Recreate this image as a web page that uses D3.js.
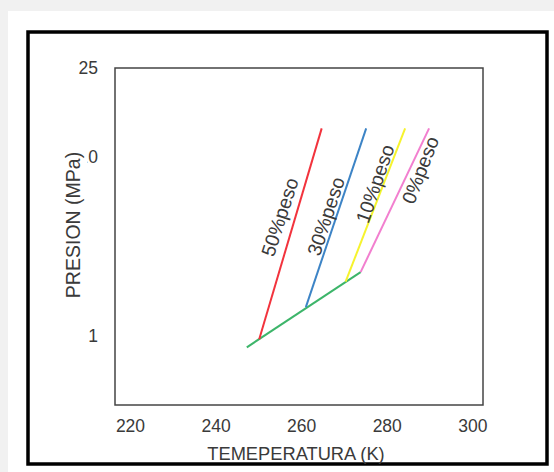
<!DOCTYPE html>
<html>
<head>
<meta charset="utf-8">
<script src="https://cdn.jsdelivr.net/npm/d3@7/dist/d3.min.js"></script>
<style>
  body { margin: 0; background: #fff; }
  svg { display: block; }
</style>
</head>
<body>
<div id="chart"></div>
<script>
// Hydrate equilibrium lines (T in K, P in MPa)
const seriesNames = ["50%peso", "30%peso", "10%peso", "0%peso"];
const seriesColors = ["#f2333d", "#3d84c6", "#f6f32e", "#f27fcf"];
const seriesTemps = [[250.2, 264.8], [261.1, 275.2], [270.4, 284.3], [273.9, 289.9]];
const seriesPress = [[0.95, 13.6], [1.53, 13.6], [2.18, 13.6], [2.48, 13.6]];
// lower (green) line
const baseTemps = [247.3, 273.9];
const basePress = [0.84, 2.48];

const xTicks = [220, 240, 260, 280, 300];
const yTicks = [1, 10, 25];

// where each label sits along its line (fraction, px to the left, angle)
const labelLayout = [
  { t: 0.56, off: 15, angle: -72 },
  { t: 0.49, off: 10, angle: -72 },
  { t: 0.62, off: 8, angle: -71 },
  { t: 0.74, off: -10, angle: -69 }
];

function renderChart() {
  const width = 554, height = 472;
  const margin = { top: 68, right: 71, bottom: 67, left: 115 };
  const font = "'Liberation Sans', Arial, sans-serif";
  const textColor = "#3a3a3a";

  const svg = d3.select("#chart").append("svg")
    .attr("width", width)
    .attr("height", height);

  // page background + white card
  svg.append("rect").attr("width", width).attr("height", height).attr("fill", "#f1f1f1");
  svg.append("rect").attr("x", 8).attr("y", 11)
    .attr("width", width - 8).attr("height", height - 11).attr("fill", "#fff");

  // black frame around the chart
  svg.append("rect")
    .attr("x", 28).attr("y", 32).attr("width", 519).attr("height", 432)
    .attr("fill", "none").attr("stroke", "#000").attr("stroke-width", 3.5);

  const x = d3.scaleLinear()
    .domain([216.5, 302.5])
    .range([margin.left, width - margin.right]);

  // compressed pressure axis, fitted to the printed tick positions
  const y = d3.scalePow().exponent(0.14)
    .domain([0.322, 25])
    .range([height - margin.bottom, margin.top]);

  // plot box
  svg.append("rect")
    .attr("x", margin.left).attr("y", margin.top)
    .attr("width", x.range()[1] - x.range()[0])
    .attr("height", y.range()[0] - y.range()[1])
    .attr("fill", "none").attr("stroke", "#444").attr("stroke-width", 1.5);

  const xAxis = svg.append("g")
    .attr("transform", `translate(0,${height - margin.bottom})`)
    .call(d3.axisBottom(x).tickValues(xTicks).tickSize(0).tickPadding(15));
  xAxis.select(".domain").remove();
  xAxis.selectAll("text")
    .style("font-family", font).style("font-size", "17.5px").attr("fill", textColor);

  const yAxis = svg.append("g")
    .attr("transform", `translate(${margin.left},0)`)
    .call(d3.axisLeft(y).tickValues(yTicks).tickSize(0).tickPadding(17).tickFormat(d3.format("d")));
  yAxis.select(".domain").remove();
  yAxis.selectAll("text")
    .style("font-family", font).style("font-size", "17.5px").attr("fill", textColor);

  const line = d3.line().x(d => x(d[0])).y(d => y(d[1]));

  // green lower line
  svg.append("path")
    .datum(d3.zip(baseTemps, basePress))
    .attr("d", line)
    .attr("fill", "none").attr("stroke", "#3db56a").attr("stroke-width", 2);

  const series = seriesNames.map((name, i) => ({
    name,
    color: seriesColors[i],
    pts: d3.zip(seriesTemps[i], seriesPress[i]),
    lay: labelLayout[i]
  }));

  svg.selectAll("path.series")
    .data(series)
    .join("path")
    .attr("class", "series")
    .attr("d", d => line(d.pts))
    .attr("fill", "none")
    .attr("stroke", d => d.color)
    .attr("stroke-width", 2);

  // rotated labels next to each line
  svg.selectAll("text.lbl")
    .data(series)
    .join("text")
    .attr("class", "lbl")
    .attr("transform", d => {
      const x0 = x(d.pts[0][0]), y0 = y(d.pts[0][1]);
      const x1 = x(d.pts[1][0]), y1 = y(d.pts[1][1]);
      const len = Math.hypot(x1 - x0, y1 - y0);
      const ux = (x1 - x0) / len, uy = (y1 - y0) / len;
      const px = x0 + d.lay.t * (x1 - x0) + d.lay.off * uy;
      const py = y0 + d.lay.t * (y1 - y0) - d.lay.off * ux;
      return `translate(${px},${py}) rotate(${d.lay.angle})`;
    })
    .attr("text-anchor", "middle")
    .attr("dy", "0.35em")
    .style("font-family", font).style("font-size", "19.5px")
    .attr("fill", textColor)
    .text(d => d.name);

  // axis titles
  svg.append("text")
    .attr("x", 296).attr("y", 460)
    .attr("text-anchor", "middle")
    .style("font-family", font).style("font-size", "18.3px")
    .attr("fill", textColor)
    .text("TEMEPERATURA (K)");

  const yt = svg.append("g").attr("transform", "translate(80,225) rotate(-90)");
  const ytRect = yt.append("rect").attr("fill", "#fff");
  const ytText = yt.append("text")
    .attr("text-anchor", "middle")
    .style("font-family", font).style("font-size", "19.5px")
    .attr("fill", textColor)
    .text("PRESION (MPa)");
  const bb = ytText.node().getBBox();
  ytRect.attr("x", bb.x - 3).attr("y", bb.y - 1)
    .attr("width", bb.width + 6).attr("height", 7.5 - (bb.y - 1));
}

renderChart();
</script>
</body>
</html>
